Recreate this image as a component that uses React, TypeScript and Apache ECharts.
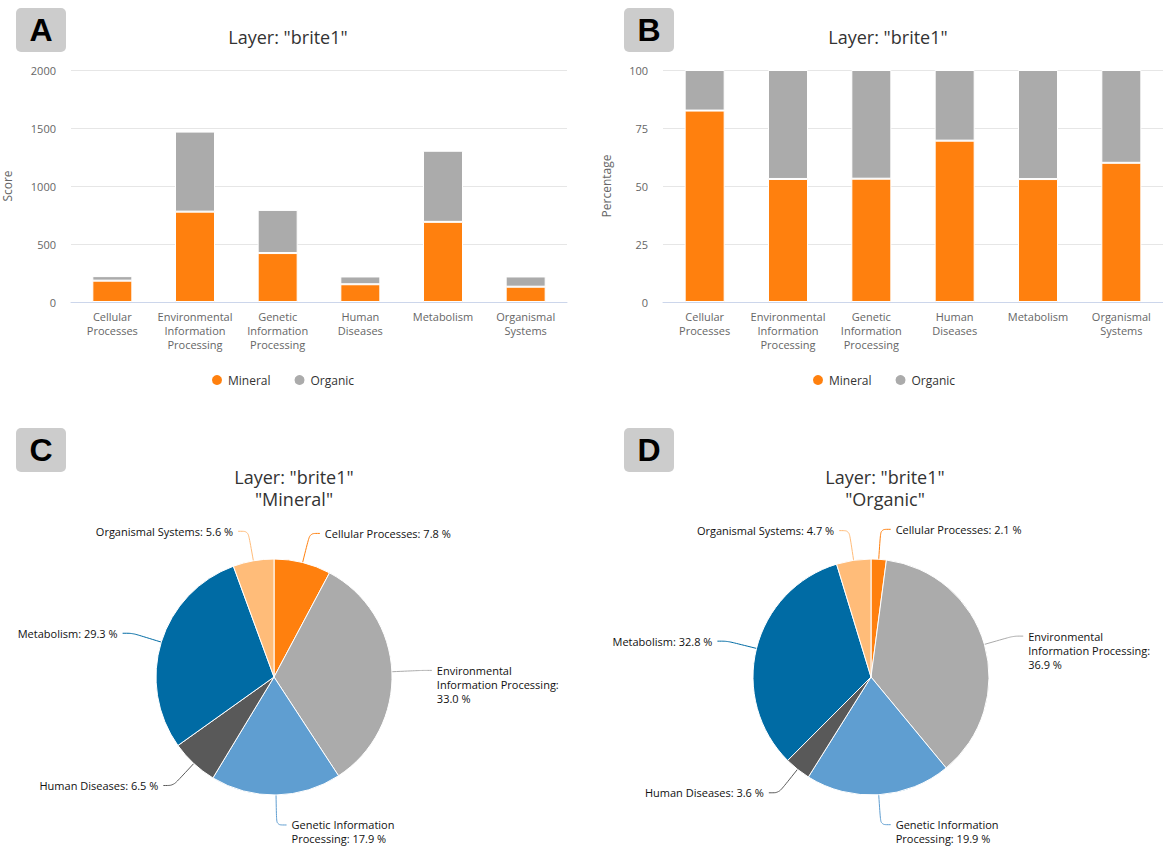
import React, { useEffect, useRef } from "react";
import * as echarts from "echarts";

// ---- data ----
const categories = [
  "Cellular Processes",
  "Environmental Information Processing",
  "Genetic Information Processing",
  "Human Diseases",
  "Metabolism",
  "Organismal Systems",
];
const seriesNames = ["Mineral", "Organic"];
const mineralScores = [184, 779, 422, 153, 691, 132];
const organicScores = [39, 690, 372, 67, 613, 88];
const scoreAxis = { min: 0, max: 2000, interval: 500 };
const percentAxis = { min: 0, max: 100, interval: 25 };
const panelLetters = ["A", "B", "C", "D"];
const layerTitle = 'Layer: "brite1"';

// ---- styles ----
const FONT = "'Open Sans', 'Noto Sans', sans-serif";
const MINERAL_COLOR = "#FF800E";
const ORGANIC_COLOR = "#ABABAB";
const sliceColors = ["#FF800E", "#ABABAB", "#5F9ED1", "#595959", "#006BA4", "#FFBC79"];
const LABEL_LH = 14;

const wrapLabel: Record<string, string> = {
  "Environmental Information Processing": "Environmental\nInformation Processing:\n",
  "Genetic Information Processing": "Genetic Information\nProcessing: ",
};

function pieSeries(values: number[], center: [number, number]) {
  const total = values.reduce((a, b) => a + b, 0);
  return {
    type: "pie",
    center,
    radius: 118,
    startAngle: 90,
    clockwise: true,
    avoidLabelOverlap: true,
    emphasis: { disabled: true },
    itemStyle: { borderColor: "#fff", borderWidth: 1 },
    label: {
      show: true,
      position: "outside",
      color: "#111",
      fontSize: 11,
      fontFamily: FONT,
      lineHeight: LABEL_LH,
      formatter: (p: any) => {
        const pct = ((p.value / total) * 100).toFixed(1) + " %";
        const head = wrapLabel[p.name] ?? p.name + ": ";
        return head + pct;
      },
    },
    labelLayout: (params: any) => ({
      dy: (params.labelRect.height - LABEL_LH) / 2,
    }),
    labelLine: { show: true, length: 30, length2: 10, smooth: 0.3, lineStyle: { width: 1 } },
    data: categories.map((c, i) => ({
      name: c,
      value: values[i],
      itemStyle: { color: sliceColors[i] },
    })),
  };
}

function App() {
  const ref = useRef<HTMLDivElement>(null);
  useEffect(() => {
    if (!ref.current) return;
    const chart = echarts.init(ref.current, undefined, { renderer: "svg" });

    const totals = mineralScores.map((m, i) => m + organicScores[i]);
    const mineralPct = mineralScores.map((m, i) => (m / totals[i]) * 100);
    const organicPct = organicScores.map((o, i) => (o / totals[i]) * 100);

    const xAxisBase = (gridIndex: number) => ({
      gridIndex,
      type: "category",
      data: categories,
      axisTick: { show: false },
      axisLine: { lineStyle: { color: "#ccd6eb" } },
      axisLabel: {
        color: "#666",
        fontSize: 11,
        fontFamily: FONT,
        lineHeight: 14,
        margin: 7,
        interval: 0,
        formatter: (v: string) => v.split(" ").join("\n"),
      },
    });
    const yAxisBase = (gridIndex: number, range: any, name: string, nameGap: number) => ({
      gridIndex,
      type: "value",
      ...range,
      name,
      nameLocation: "middle",
      nameRotate: 90,
      nameGap,
      nameTextStyle: { color: "#666", fontSize: 12, fontFamily: FONT },
      axisLabel: { color: "#666", fontSize: 11, fontFamily: FONT, margin: 15, formatter: (v: number) => String(v) },
      axisLine: { show: false },
      axisTick: { show: false },
      splitLine: { lineStyle: { color: "#e6e6e6" } },
    });
    const barBase = {
      type: "bar",
      barWidth: 40,
      itemStyle: { borderColor: "#fff", borderWidth: 1 },
      emphasis: { disabled: true },
    };

    const boxes = [
      [16, 8],
      [624, 8],
      [16, 428],
      [624, 428],
    ];
    const titleStyle = { fontSize: 18, lineHeight: 22, fontWeight: "normal", color: "#333", fontFamily: FONT };
    const legendBase = {
      data: seriesNames,
      top: 368,
      icon: "circle",
      itemWidth: 12,
      itemHeight: 12,
      itemGap: 22,
      textStyle: { color: "#333", fontSize: 12, fontFamily: FONT },
    };

    chart.setOption({
      animation: false,
      textStyle: { fontFamily: FONT },
      title: [
        { text: layerTitle, left: 283, top: 21, textAlign: "center", textStyle: titleStyle },
        { text: layerTitle, left: 883, top: 21, textAlign: "center", textStyle: titleStyle },
        { text: layerTitle + '\n"' + seriesNames[0] + '"', left: 289, top: 461, textAlign: "center", textStyle: titleStyle },
        { text: layerTitle + '\n"' + seriesNames[1] + '"', left: 880, top: 461, textAlign: "center", textStyle: titleStyle },
      ],
      legend: [
        { ...legendBase, left: 205 },
        { ...legendBase, left: 806 },
      ],
      grid: [
        { left: 67, top: 70, width: 500, height: 232 },
        { left: 663, top: 70, width: 505, height: 232 },
      ],
      xAxis: [xAxisBase(0), xAxisBase(1)],
      yAxis: [
        yAxisBase(0, scoreAxis, "Score", 58),
        yAxisBase(1, percentAxis, "Percentage", 51),
      ],
      graphic: boxes.flatMap(([x, y], i) => [
        { type: "rect", x, y, shape: { width: 50, height: 44, r: 5 }, style: { fill: "#cccccc" } },
        {
          type: "text",
          x: x + 25,
          y: y + 22,
          style: { text: panelLetters[i], fill: "#000", font: "bold 32px 'Liberation Sans', Arial, sans-serif", textAlign: "center", textVerticalAlign: "middle" },
        },
      ]),
      series: [
        { ...barBase, name: seriesNames[0], stack: "a", xAxisIndex: 0, yAxisIndex: 0, data: mineralScores, itemStyle: { ...barBase.itemStyle, color: MINERAL_COLOR } },
        { ...barBase, name: seriesNames[1], stack: "a", xAxisIndex: 0, yAxisIndex: 0, data: organicScores, itemStyle: { ...barBase.itemStyle, color: ORGANIC_COLOR } },
        { ...barBase, name: seriesNames[0], stack: "b", xAxisIndex: 1, yAxisIndex: 1, data: mineralPct, itemStyle: { ...barBase.itemStyle, color: MINERAL_COLOR } },
        { ...barBase, name: seriesNames[1], stack: "b", xAxisIndex: 1, yAxisIndex: 1, data: organicPct, itemStyle: { ...barBase.itemStyle, color: ORGANIC_COLOR } },
        pieSeries(mineralScores, [274, 677]),
        pieSeries(organicScores, [871, 677]),
      ],
    });
    return () => chart.dispose();
  }, []);
  return (
    <div
      ref={ref}
      style={{ position: "absolute", left: 0, top: 0, width: 1163, height: 847, background: "#fff" }}
    />
  );
}

export default App;
